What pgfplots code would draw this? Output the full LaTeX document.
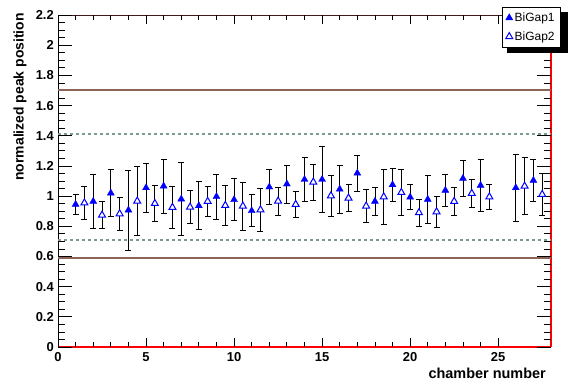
\documentclass[border=0pt]{standalone}
\usepackage{pgfplots}
\pgfplotsset{compat=1.18}
\usepackage{fontspec}
\setmainfont{Liberation Sans}
\definecolor{brownline}{RGB}{140,100,85}
\definecolor{dotline}{RGB}{125,155,140}
\definecolor{rootblue}{RGB}{0,0,255}
\begin{document}
\begin{tikzpicture}
\useasboundingbox (0,0) rectangle (585bp,-386bp);
% frame
\draw[line width=0.8bp, color={rgb,255:red,70;green,25;blue,25}] (58bp,-15bp) -- (551bp,-15bp);
\draw[line width=1.2bp, red] (551bp,-15bp) -- (551bp,-347bp);
\draw[line width=1.2bp, red] (58bp,-347bp) -- (551bp,-347bp);
\draw[line width=1bp, black] (58bp,-347bp) -- (58bp,-15bp);
% legend shadow
\fill[black] (507bp,-12bp) rectangle (568bp,-53bp);
\begin{axis}[
  at={(58bp,-347bp)}, anchor=south west,
  scale only axis, width=493bp, height=332bp,
  xmin=0, xmax=28, ymin=0, ymax=2.2,
  axis line style={draw=none},
  xtick=\empty,
  ytick={0,0.2,...,2.21},
  minor y tick num=3,
  tick align=inside,
  major tick length=14bp, minor tick length=7bp,
  tick style={black, line width=0.8bp},
  /pgf/number format/assume math mode=true,
  yticklabel style={font=\bfseries\fontsize{13}{15}\selectfont, inner sep=0pt, xshift=-4bp},
  yticklabel={\pgfmathprintnumber[fixed,precision=1]{\tick}},
  clip=false,
  legend cell align=left,
  legend style={at={(0.9006,1.024)}, anchor=north west, draw=black, line width=0.6bp, fill=white,
    font=\fontsize{12}{14}\selectfont, inner xsep=3.5bp, inner ysep=3.5bp, row sep=4.5bp},
]
\addplot[brownline, line width=2bp, forget plot] coordinates {(0,1.7) (28,1.7)};
\addplot[brownline, line width=2bp, forget plot] coordinates {(0,0.588) (28,0.588)};
\addplot[dotline, line width=2bp, dash pattern=on 2.5bp off 3.5bp, forget plot] coordinates {(0,1.41) (28,1.41)};
\addplot[dotline, line width=2bp, dash pattern=on 2.5bp off 3.5bp, forget plot] coordinates {(0,0.71) (28,0.71)};
\addplot[only marks, mark=triangle*, mark size=4bp, color=rootblue,
  error bars/.cd, y dir=both, y explicit,
  error bar style={black, line width=0.8bp},
  error mark options={black, line width=0.8bp, mark size=3bp, rotate=90}]
coordinates {
(1,0.945) +- (0,0.065)
(2,0.965) +- (0,0.18)
(3,1.02) +- (0,0.155)
(4,0.907) +- (0,0.265)
(5,1.055) +- (0,0.16)
(6,1.066) +- (0,0.18)
(7,0.98) +- (0,0.24)
(8,0.936) +- (0,0.16)
(9,0.997) +- (0,0.15)
(10,0.976) +- (0,0.14)
(11,0.903) +- (0,0.105)
(12,1.06) +- (0,0.115)
(13,1.08) +- (0,0.126)
(14,1.11) +- (0,0.145)
(15,1.11) +- (0,0.22)
(16,1.046) +- (0,0.16)
(17,1.152) +- (0,0.12)
(18,0.965) +- (0,0.09)
(19,1.075) +- (0,0.107)
(20,0.993) +- (0,0.082)
(21,0.978) +- (0,0.16)
(22,1.038) +- (0,0.108)
(23,1.117) +- (0,0.12)
(24,1.071) +- (0,0.175)
(26,1.055) +- (0,0.22)
(27,1.104) +- (0,0.14)
};
\addlegendentry{BiGap1}
\addplot[only marks, mark=triangle*, mark size=4bp, color=rootblue, mark options={fill=white, line width=1bp},
  error bars/.cd, y dir=both, y explicit,
  error bar style={black, line width=0.8bp},
  error mark options={black, line width=0.8bp, mark size=3bp, rotate=90}]
coordinates {
(1.5,0.955) +- (0,0.11)
(2.5,0.874) +- (0,0.09)
(3.5,0.883) +- (0,0.11)
(4.5,0.967) +- (0,0.23)
(5.5,0.951) +- (0,0.12)
(6.5,0.925) +- (0,0.14)
(7.5,0.927) +- (0,0.11)
(8.5,0.965) +- (0,0.1)
(9.5,0.938) +- (0,0.13)
(10.5,0.934) +- (0,0.16)
(11.5,0.909) +- (0,0.14)
(12.5,0.967) +- (0,0.093)
(13.5,0.945) +- (0,0.085)
(14.5,1.093) +- (0,0.12)
(15.5,1.002) +- (0,0.135)
(16.5,0.987) +- (0,0.09)
(17.5,0.934) +- (0,0.11)
(18.5,0.995) +- (0,0.18)
(19.5,1.024) +- (0,0.155)
(20.5,0.89) +- (0,0.09)
(21.5,0.896) +- (0,0.105)
(22.5,0.965) +- (0,0.09)
(23.5,1.018) +- (0,0.093)
(24.5,0.995) +- (0,0.08)
(26.5,1.066) +- (0,0.19)
(27.5,1.011) +- (0,0.137)
};
\addlegendentry{BiGap2}
\end{axis}
\begin{axis}[
  at={(58bp,-347bp)}, anchor=south west,
  scale only axis, width=493bp, height=332bp,
  xmin=0, xmax=28, ymin=0, ymax=2.2,
  axis line style={draw=none},
  ytick=\empty,
  xtick={0,5,...,25},
  minor x tick num=4,
  tick align=inside,
  major tick length=9bp, minor tick length=5bp,
  tick style={black, line width=0.8bp},
  /pgf/number format/assume math mode=true,
  xticklabel style={font=\bfseries\fontsize{13}{15}\selectfont, inner sep=0pt, yshift=-5bp},
]
\addplot[draw=none, forget plot] coordinates {(0,0) (28,2.2)};
\end{axis}
\node[rotate=90, anchor=east, inner sep=0pt, font=\bfseries\fontsize{14}{16}\selectfont] at (20bp,-13bp) {normalized peak position};
\node[anchor=east, inner sep=0pt, font=\bfseries\fontsize{14.5}{16}\selectfont] at (546bp,-373bp) {chamber number};
\end{tikzpicture}
\end{document}
